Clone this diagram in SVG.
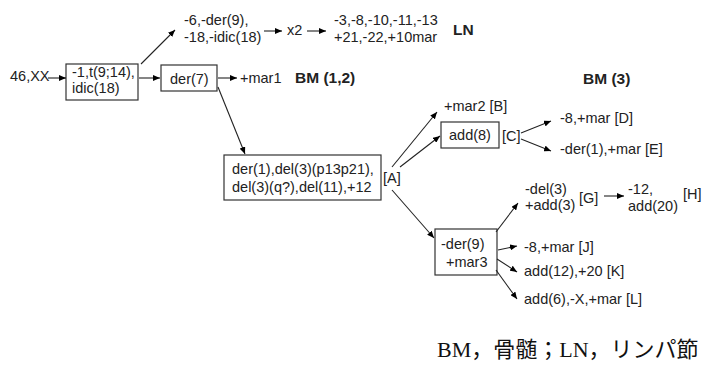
<svg xmlns="http://www.w3.org/2000/svg" width="705" height="367" viewBox="0 0 705 367">
<defs>
<marker id="ah" markerWidth="8" markerHeight="6" refX="7" refY="3" orient="auto" markerUnits="userSpaceOnUse">
<path d="M0,0 L7,3 L0,6 z" fill="#000"/>
</marker>
<style>
text{font-family:"Liberation Sans","Open Sans",sans-serif;font-size:14.5px;fill:#222}
.b{font-weight:bold;font-size:15.5px}
.box{fill:#fff;stroke:#333;stroke-width:1.2}
.c line{stroke:#222;stroke-width:1.1;marker-end:url(#ah)}
.foot{font-family:"Liberation Serif","Noto Sans CJK JP",serif;font-size:22px;fill:#111}
</style>
</defs>
<rect width="705" height="367" fill="#fff"/>
<g id="start"><text x="10" y="81">46,XX</text></g>
<g id="n1"><rect class="box" x="66" y="64" width="72" height="36"/><text x="72" y="77">-1,t(9;14),</text><text x="72" y="93">idic(18)</text></g>
<g id="ln1"><text x="184" y="25">-6,-der(9),</text><text x="184" y="42">-18,-idic(18)</text></g>
<g id="x2"><text x="287" y="35">x2</text></g>
<g id="ln2"><text x="334" y="25">-3,-8,-10,-11,-13</text><text x="334" y="42">+21,-22,+10mar</text></g>
<g id="lnlabel"><text class="b" x="453" y="35">LN</text></g>
<g id="n2"><rect class="box" x="161" y="65" width="56" height="26"/><text x="170" y="84">der(7)</text></g>
<g id="mar1"><text x="240" y="83">+mar1</text></g>
<g id="bm12"><text class="b" x="295" y="83">BM (1,2)</text></g>
<g id="bm3"><text class="b" x="583" y="84">BM (3)</text></g>
<g id="nA"><rect class="box" x="224" y="155" width="157" height="45"/><text x="232" y="174">der(1),del(3)(p13p21),</text><text x="232" y="192">del(3)(q?),del(11),+12</text><text x="383" y="183">[A]</text></g>
<g id="nB"><text x="444" y="111">+mar2 [B]</text></g>
<g id="nC"><rect class="box" x="441" y="122" width="58" height="26"/><text x="449" y="140">add(8)</text><text x="502" y="141">[C]</text></g>
<g id="nD"><text x="560" y="123">-8,+mar [D]</text></g>
<g id="nE"><text x="560" y="154">-der(1),+mar [E]</text></g>
<g id="n3"><rect class="box" x="435" y="229" width="62" height="46"/><text x="441" y="249">-der(9)</text><text x="446" y="267">+mar3</text></g>
<g id="nG"><text x="525" y="194">-del(3)</text><text x="525" y="210">+add(3)</text><text x="579" y="203">[G]</text></g>
<g id="nH"><text x="628" y="194">-12,</text><text x="628" y="211">add(20)</text><text x="683" y="199">[H]</text></g>
<g id="nJ"><text x="524" y="252">-8,+mar [J]</text></g>
<g id="nK"><text x="524" y="276">add(12),+20 [K]</text></g>
<g id="nL"><text x="524" y="304">add(6),-X,+mar [L]</text></g>
<g id="footer"><text class="foot" x="437" y="357">BM，骨髄；LN，リンパ節</text></g>
<g class="c" id="connectors">
<line x1="48" y1="78" x2="66" y2="78"/>
<line x1="141" y1="64" x2="175" y2="30"/>
<line x1="264" y1="31" x2="282" y2="31"/>
<line x1="307" y1="31" x2="326" y2="31"/>
<line x1="139" y1="78" x2="160" y2="78"/>
<line x1="218" y1="78" x2="237" y2="78"/>
<line x1="218" y1="87" x2="245" y2="154"/>
<line x1="392" y1="167" x2="437" y2="112"/>
<line x1="400" y1="167" x2="440" y2="136"/>
<line x1="521" y1="133" x2="551" y2="121"/>
<line x1="521" y1="139" x2="551" y2="151"/>
<line x1="392" y1="190" x2="434" y2="238"/>
<line x1="496" y1="232" x2="518" y2="203"/>
<line x1="604" y1="196" x2="624" y2="196"/>
<line x1="498" y1="250" x2="517" y2="246"/>
<line x1="497" y1="259" x2="517" y2="272"/>
<line x1="496" y1="270" x2="517" y2="299"/>
</g>
</svg>
